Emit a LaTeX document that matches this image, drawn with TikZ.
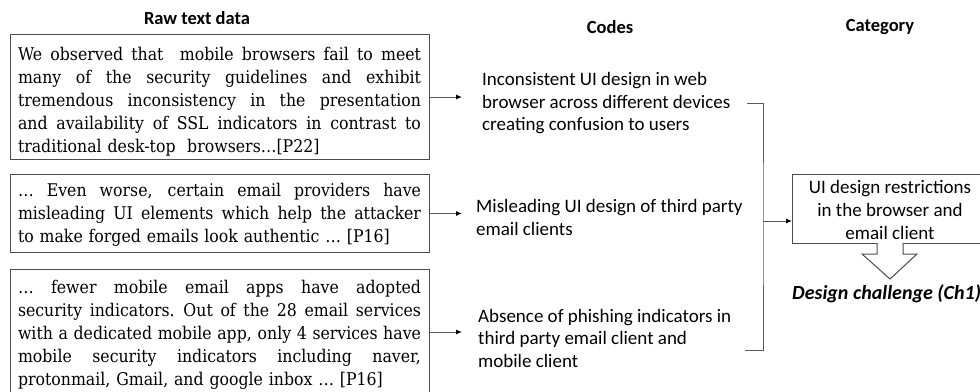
\documentclass[tikz,border=0pt]{standalone}
\usepackage{fontspec}
\newfontfamily\calibri{Carlito}
\newfontfamily\quotefont[FakeStretch=0.9]{DejaVu Serif}
\usetikzlibrary{arrows.meta}

% one justified line of a quotation: the word spaces share the slack
\newcommand\jline[1]{\makebox[403pt][s]{\spaceskip=\fontdimen2\font plus 1fil\relax #1}\\}

\tikzset{
  frame/.style={draw=black!70, line width=1pt},
  rawbox/.style={frame, anchor=north west, inner sep=0pt, minimum width=419pt},
  rawtext/.style={text width=403pt, inner sep=0pt, align=left,
                  font=\quotefont\fontsize{17.5}{23}\selectfont},
  codetext/.style={anchor=west, inner sep=0pt, align=left,
                   font=\calibri\fontsize{19}{22.5}\selectfont},
  heading/.style={inner sep=0pt, font=\calibri\bfseries\fontsize{18.5}{20}\selectfont},
  link/.style={draw=black!65, line width=1pt},
  feed/.style={link, -{Latex[length=6pt,width=5pt,color=black]}},
}

\begin{document}
\begin{tikzpicture}[x=1pt, y=-1pt]
\useasboundingbox (0,0) rectangle (980,391);
\clip (0,0) rectangle (980,391);

% column headings
\node[heading] (hraw) at (197,18) {Raw text data};
\node[heading] (hcodes) at (610,27) {Codes};
\node[heading] (hcat) at (880,27) {Category};

% quotations
\node[rawbox, minimum height=125pt] (r1) at (10,34) {};
\node[rawtext] (t1) at (219.5,101.5) {%
  \jline{We observed that\ \ mobile browsers fail to meet}
  \jline{many of the security guidelines and exhibit}
  \jline{tremendous inconsistency in the presentation}
  \jline{and availability of SSL indicators in contrast to}
  traditional desk-top\ \ browsers…[P22]};

\node[rawbox, minimum height=78pt] (r2) at (10,174) {};
\node[rawtext] (t2) at (219.5,214.5) {%
  \jline{… Even worse, certain email providers have}
  \jline{misleading UI elements which help the attacker}
  to make forged emails look authentic … [P16]};

\node[rawbox, minimum height=125pt] (r3) at (10,269) {};
\node[rawtext] (t3) at (219.5,335) {%
  \jline{… fewer mobile email apps have adopted}
  \jline{security indicators. Out of the 28 email services}
  \jline{with a dedicated mobile app, only 4 services have}
  \jline{mobile security indicators including naver,}
  protonmail, Gmail, and google inbox … [P16]};

% codes
\node[codetext] (c1) at (482,103.5) {Inconsistent UI design in web\\browser across different devices\\creating confusion to users};
\node[codetext] (c2) at (476,217.5) {Misleading UI design of third party\\email clients};
\node[codetext] (c3) at (478,338) {Absence of phishing indicators in\\third party email client and\\mobile client};

% category
\node[frame, anchor=north west, inner sep=0pt, minimum width=188pt, minimum height=69pt] (cat) at (792,174) {};
\node[inner sep=0pt, align=center, font=\calibri\fontsize{19}{23}\selectfont] (catt) at (890,210)
  {UI design restrictions\\in the browser and\\email client};
\node[anchor=west, inner sep=0pt, font=\calibri\bfseries\itshape\fontsize{20}{22}\selectfont] (ch) at (792,294)
  {Design challenge (Ch1)};

% quotation -> code arrows
\coordinate (tipx) at (462,0);
\draw[feed] (r1.east) -- (r1.east -| tipx);
\draw[feed] (r2.east) -- (r2.east -| tipx);
\draw[feed] (r3.east) -- (r3.east -| tipx);

% bracket gathering the codes
\coordinate (b1) at (747,103);
\coordinate (b3) at (745,350);
\coordinate (bj) at (763,221);
\draw[link] (b1) -| (bj) |- (b3);
\draw[feed] (bj) -- (bj -| cat.west);

% block arrow from category to challenge
\draw[frame, fill=white] (877,243) -- (877,254) -- (862,254) -- (890,279)
  -- (917,254) -- (903,254) -- (903,243);
\end{tikzpicture}
\end{document}
